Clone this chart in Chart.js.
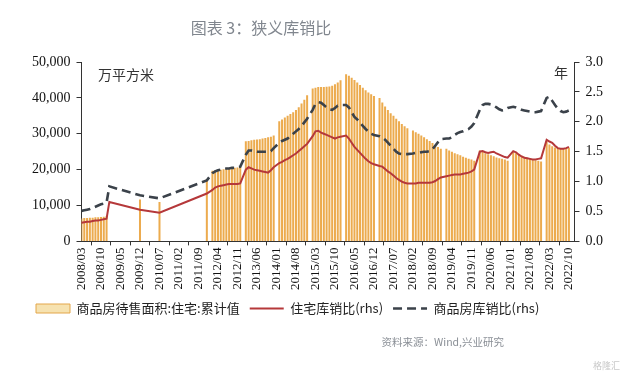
<!DOCTYPE html>
<html>
<head>
<meta charset="utf-8">
<script src="https://cdn.jsdelivr.net/npm/chart.js@4/dist/chart.umd.min.js"></script>
<style>
  html, body { margin: 0; padding: 0; background: #fff; }
  #wrap { width: 640px; height: 375px; }
</style>
</head>
<body>
<div id="wrap"><canvas id="chart" width="640" height="375"></canvas></div>
<script>
// months 2008/03 .. 2022/12
const months = [];
for (let y = 2008; y <= 2022; y++) {
    for (let m = (y === 2008 ? 3 : 1); m <= 12; m++) {
        months.push(y + '/' + String(m).padStart(2, '0'));
    }
}

// 商品房待售面积:住宅:累计值 (万平方米)
const stockArea = [
    6400, 6500, 6500, 6600, 6600, 6700, 6700, 6800, 6900, 7000,                          // 2008 (03-12)
    null, null, null, null, null, null, null, null, null, null, null, 11700,             // 2009
    null, null, null, null, null, null, 11000, null, null, null, null, null,             // 2010
    null, null, null, null, null, null, null, null, null, null, null, 17400,             // 2011
    null, 19700, 19800, 19900, 20000, 20100, 20200, 20300, 20400, 20500, 20600, 20800,   // 2012
    null, 27900, 28000, 28200, 28300, 28400, 28500, 28700, 28800, 29000, 29200, 29500,   // 2013
    null, 33500, 34000, 34500, 35000, 35500, 36000, 36600, 37400, 38400, 39500, 40700,   // 2014
    null, 42600, 42800, 43000, 43000, 43000, 43100, 43200, 43400, 43800, 44300, 44900,   // 2015
    null, 46600, 46200, 45600, 45000, 44300, 43600, 42800, 42100, 41500, 41000, 40500,   // 2016
    null, 40000, 38700, 37600, 36600, 35700, 35000, 34200, 33500, 32700, 32100, 31500,   // 2017
    null, 30900, 30400, 30000, 29500, 29000, 28500, 28000, 27400, 26800, 26300, 25800,   // 2018
    null, 25800, 25300, 25000, 24600, 24300, 24000, 23600, 23300, 23000, 22800, 22500,   // 2019
    null, 25300, 25000, 24600, 24300, 24000, 23700, 23400, 23200, 23000, 22800, 22500,   // 2020
    null, 25000, 24600, 24200, 23900, 23600, 23300, 23000, 22800, 22600, 22500, 22300,   // 2021
    null, 27900, 27000, 26500, 26200, 26000, 25800, 25800, 26000, 26100, null, null      // 2022
];

// 住宅库销比 (rhs, 年)
const housingRatio = [
    0.31, 0.32, 0.33, 0.33, 0.34, 0.35, 0.35, 0.36, 0.37, 0.38,
    0.66, null, null, null, null, null, null, null, null, null, null, 0.53,
    null, null, null, null, null, null, 0.48, null, null, null, null, null,
    null, null, null, null, null, null, null, null, null, null, null, 0.80,
    null, 0.86, 0.90, 0.92, 0.93, 0.94, 0.95, 0.96, 0.96, 0.96, 0.96, 0.97,
    null, 1.20, 1.24, 1.22, 1.20, 1.19, 1.18, 1.17, 1.16, 1.15, 1.19, 1.24,
    null, 1.31, 1.33, 1.36, 1.38, 1.41, 1.44, 1.47, 1.51, 1.55, 1.59, 1.63,
    null, 1.76, 1.84, 1.85, 1.82, 1.80, 1.78, 1.76, 1.74, 1.72, 1.74, 1.75,
    null, 1.77, 1.72, 1.65, 1.58, 1.53, 1.48, 1.43, 1.38, 1.34, 1.31, 1.29,
    null, 1.26, 1.25, 1.21, 1.17, 1.14, 1.10, 1.06, 1.03, 1.00, 0.98, 0.97,
    null, 0.97, 0.97, 0.98, 0.98, 0.98, 0.98, 0.98, 0.99, 1.01, 1.04, 1.07,
    null, 1.09, 1.10, 1.11, 1.12, 1.12, 1.12, 1.13, 1.14, 1.15, 1.17, 1.20,
    null, 1.50, 1.51, 1.49, 1.48, 1.49, 1.50, 1.47, 1.45, 1.43, 1.41, 1.40,
    null, 1.51, 1.49, 1.45, 1.42, 1.40, 1.39, 1.38, 1.37, 1.37, 1.38, 1.39,
    null, 1.70, 1.67, 1.65, 1.60, 1.56, 1.55, 1.55, 1.56, 1.58, null, null
];

// 商品房库销比 (rhs, 年)
const totalRatio = [
    0.51, 0.52, 0.53, 0.54, 0.56, 0.58, 0.60, 0.62, 0.63, 0.65,
    0.92, null, null, null, null, null, null, null, null, null, null, 0.77,
    null, null, null, null, null, null, 0.72, null, null, null, null, null,
    null, null, null, null, null, null, null, null, null, null, null, 1.02,
    null, 1.14, 1.17, 1.19, 1.20, 1.21, 1.22, 1.22, 1.23, 1.23, 1.24, 1.25,
    null, 1.45, 1.52, 1.52, 1.51, 1.50, 1.50, 1.50, 1.50, 1.50, 1.51, 1.56,
    null, 1.65, 1.68, 1.70, 1.72, 1.76, 1.80, 1.84, 1.88, 1.93, 1.99, 2.05,
    null, 2.20, 2.30, 2.33, 2.32, 2.28, 2.24, 2.21, 2.20, 2.23, 2.27, 2.28,
    null, 2.28, 2.24, 2.16, 2.08, 2.04, 1.99, 1.93, 1.88, 1.84, 1.80, 1.78,
    null, 1.76, 1.74, 1.70, 1.65, 1.60, 1.55, 1.50, 1.47, 1.46, 1.46, 1.46,
    null, 1.47, 1.48, 1.48, 1.49, 1.50, 1.50, 1.51, 1.54, 1.60, 1.66, 1.71,
    null, 1.72, 1.72, 1.74, 1.78, 1.81, 1.83, 1.84, 1.86, 1.88, 1.92, 1.98,
    null, 2.20, 2.28, 2.30, 2.30, 2.29, 2.27, 2.24, 2.21, 2.19, 2.20, 2.23,
    null, 2.25, 2.24, 2.22, 2.20, 2.19, 2.18, 2.17, 2.16, 2.16, 2.17, 2.18,
    null, 2.40, 2.42, 2.35, 2.28, 2.22, 2.18, 2.16, 2.17, 2.19, null, null
];

const seriesNames = ['商品房待售面积:住宅:累计值', '住宅库销比(rhs)', '商品房库销比(rhs)'];
const tickStep = 7;

const serif = '"Liberation Serif", "Times New Roman", serif';
const cjk = '"Noto Sans CJK SC", "Noto Sans", sans-serif';

// title, unit labels and source
const textPlugin = {
    id: 'texts',
    afterDraw(chart) {
        const ctx = chart.ctx;
        ctx.save();
        ctx.textBaseline = 'middle';
        ctx.fillStyle = '#80868e';
        ctx.font = '16px ' + cjk;
        ctx.textAlign = 'center';
        ctx.fillText('图表 3：狭义库销比', 261, 28);

        ctx.fillStyle = '#333';
        ctx.font = '14px ' + cjk;
        ctx.textAlign = 'left';
        ctx.fillText('万平方米', 98, 75);
        ctx.fillText('年', 554, 73);

        ctx.fillStyle = '#8a8f96';
        ctx.font = '10.5px ' + cjk;
        ctx.textAlign = 'right';
        ctx.fillText('资料来源：Wind,兴业研究', 504, 342);

        ctx.fillStyle = '#c8c8c8';
        ctx.font = '9px ' + cjk;
        ctx.fillText('格隆汇', 620, 366);
        ctx.restore();
    }
};

const ctx = document.getElementById('chart').getContext('2d');
new Chart(ctx, {
    type: 'bar',
    data: {
        labels: months,
        datasets: [{
            type: 'bar',
            label: seriesNames[0],
            data: stockArea,
            yAxisID: 'y',
            backgroundColor: '#ecab4e',
            barPercentage: 0.72,
            categoryPercentage: 1,
            order: 3
        }, {
            type: 'line',
            label: seriesNames[1],
            data: housingRatio,
            yAxisID: 'y1',
            borderColor: '#b5383a',
            backgroundColor: '#b5383a',
            borderWidth: 2,
            pointRadius: 0,
            spanGaps: true,
            tension: 0,
            order: 2
        }, {
            type: 'line',
            label: seriesNames[2],
            data: totalRatio,
            yAxisID: 'y1',
            borderColor: '#3b424a',
            backgroundColor: '#3b424a',
            borderWidth: 2.6,
            borderDash: [9, 5],
            pointRadius: 0,
            spanGaps: true,
            tension: 0,
            order: 1
        }]
    },
    options: {
        responsive: false,
        animation: false,
        layout: { padding: { left: 26, right: 31, top: 62, bottom: 50 } },
        scales: {
            x: {
                offset: false,
                grid: { drawOnChartArea: false, color: '#333', tickLength: 4 },
                border: { color: '#333' },
                ticks: {
                    autoSkip: false,
                    minRotation: 90,
                    maxRotation: 90,
                    padding: 2,
                    color: '#111',
                    font: { family: serif, size: 13 },
                    callback: function(value, index) {
                        return index % tickStep === 0 ? this.getLabelForValue(value) : null;
                    }
                }
            },
            y: {
                position: 'left',
                min: 0,
                max: 50000,
                grid: { drawOnChartArea: false, color: '#333', tickLength: 5 },
                border: { color: '#333' },
                ticks: {
                    stepSize: 5000,
                    padding: 6,
                    color: '#111',
                    font: { family: serif, size: 14 },
                    callback: v => v.toLocaleString('en-US')
                }
            },
            y1: {
                position: 'right',
                min: 0,
                max: 3,
                grid: { drawOnChartArea: false, color: '#333', tickLength: 5 },
                border: { color: '#333' },
                ticks: {
                    stepSize: 0.5,
                    padding: 6,
                    color: '#111',
                    font: { family: serif, size: 14 },
                    callback: v => v.toFixed(1)
                }
            }
        },
        plugins: {
            tooltip: { enabled: false },
            legend: {
                display: true,
                position: 'bottom',
                align: 'start',
                labels: {
                    usePointStyle: true,
                    pointStyleWidth: 34,
                    boxHeight: 9,
                    padding: 10,
                    color: '#222',
                    font: { family: cjk, size: 13 },
                    sort: (a, b) => a.datasetIndex - b.datasetIndex,
                    generateLabels: function(chart) {
                        const items = Chart.defaults.plugins.legend.labels.generateLabels(chart);
                        items.forEach(item => {
                            const ds = chart.data.datasets[item.datasetIndex];
                            if (ds.type === 'bar') {
                                item.pointStyle = 'rect';
                                item.fillStyle = '#f6e2b0';
                                item.strokeStyle = '#e3a64a';
                                item.lineWidth = 1;
                            } else {
                                item.pointStyle = 'line';
                                item.strokeStyle = ds.borderColor;
                                item.lineWidth = ds.borderWidth;
                                item.lineDash = ds.borderDash || [];
                            }
                        });
                        return items;
                    }
                }
            }
        }
    },
    plugins: [textPlugin]
});
</script>
</body>
</html>
